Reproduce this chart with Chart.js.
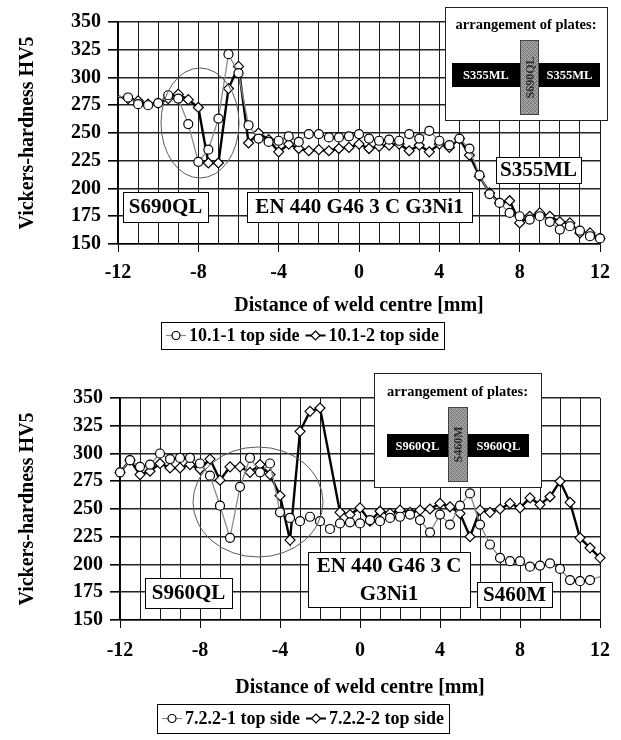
<!DOCTYPE html>
<html><head><meta charset="utf-8">
<script src="https://cdn.jsdelivr.net/npm/chart.js@4.4.1/dist/chart.umd.min.js"></script>
<style>
html,body{margin:0;padding:0;background:#fff;}
#wrap{position:relative;width:621px;height:740px;overflow:hidden;}
canvas{position:absolute;left:0;}
#c1{top:0}
#c2{top:370px}
</style></head><body>
<div id="wrap"><canvas id="c1" width="621" height="370"></canvas><canvas id="c2" width="621" height="370"></canvas></div>
<script>
// ---------- data ----------
const distances = [-12,-11.5,-11,-10.5,-10,-9.5,-9,-8.5,-8,-7.5,-7,-6.5,-6,-5.5,-5,-4.5,-4,-3.5,-3,-2.5,-2,-1.5,-1,-0.5,
  0,0.5,1,1.5,2,2.5,3,3.5,4,4.5,5,5.5,6,6.5,7,7.5,8,8.5,9,9.5,10,10.5,11,11.5,12];

const xTickLabels = [-12,-8,-4,0,4,8,12];
const yTickValues = [150,175,200,225,250,275,300,325,350];

const topNames = ['10.1-1 top side','10.1-2 top side'];
const top_10_1_1 = [283,282,276,275,277,284,281,258,224,235,263,321,304,257,245,242,243,247,242,249,249,246,246,247,
  249,245,243,244,243,249,245,252,243,239,245,236,212,195,187,178,175,172,175,170,163,166,162,157,155];
const top_10_1_2 = [283,281,279,276,277,281,285,280,273,223,223,290,310,241,250,244,233,240,236,234,235,234,236,237,
  240,236,238,239,240,234,239,233,240,237,245,230,211,196,187,189,169,175,178,175,170,169,160,160,155];

const bottomNames = ['7.2.2-1 top side','7.2.2-2 top side'];
const bot_7_2_2_1 = [283,294,288,290,300,295,296,296,291,280,253,224,270,296,283,291,247,242,239,243,239,232,237,238,
  237,240,239,242,243,245,240,229,245,236,253,264,236,218,206,203,203,198,199,201,196,186,185,186,189];
const bot_7_2_2_2 = [283,294,281,284,291,287,287,290,286,295,276,288,288,283,290,281,262,222,320,338,341,null,247,245,
  251,239,248,246,249,247,249,250,255,252,246,225,249,247,250,255,251,260,254,261,275,256,224,215,206];

// ---------- drawing helpers ----------
const SERIF = '"Liberation Serif","Times New Roman",serif';

function textBox(ctx, x, y, w, h, lines, size) {
  ctx.save();
  ctx.fillStyle = '#fff'; ctx.fillRect(x, y, w, h);
  ctx.strokeStyle = '#000'; ctx.lineWidth = 1; ctx.strokeRect(x + 0.5, y + 0.5, w, h);
  ctx.fillStyle = '#000'; ctx.font = 'bold ' + size + 'px ' + SERIF;
  ctx.textAlign = 'center'; ctx.textBaseline = 'middle';
  const lh = h / lines.length;
  lines.forEach((t, i) => ctx.fillText(t, x + w / 2, y + lh * (i + 0.5) + 1));
  ctx.restore();
}

let patCache = null;
function grayPattern(ctx) {
  if (patCache) return patCache;
  const c = document.createElement('canvas'); c.width = 4; c.height = 4;
  const g = c.getContext('2d');
  const shades = ['#6a6a6a','#a8a8a8','#8a8a8a','#b8b8b8','#9c9c9c','#747474','#b0b0b0','#808080',
                  '#8e8e8e','#b4b4b4','#707070','#a0a0a0','#acacac','#848484','#9a9a9a','#6e6e6e'];
  for (let i = 0; i < 16; i++) { g.fillStyle = shades[i]; g.fillRect(i % 4, Math.floor(i / 4), 1, 1); }
  patCache = ctx.createPattern(c, 'repeat');
  return patCache;
}

function inset(ctx, o) {
  ctx.save();
  ctx.fillStyle = '#fff'; ctx.fillRect(o.x, o.y, o.w, o.h);
  ctx.strokeStyle = '#222'; ctx.lineWidth = 1; ctx.strokeRect(o.x + 0.5, o.y + 0.5, o.w, o.h);
  ctx.fillStyle = '#000'; ctx.font = 'bold 14.5px ' + SERIF;
  ctx.textAlign = 'center'; ctx.textBaseline = 'middle';
  ctx.fillText('arrangement of plates:', o.x + o.w / 2, o.titleY);
  // horizontal black bar
  const b = o.bar, v = o.vbar;
  ctx.fillStyle = '#000'; ctx.fillRect(b.x, b.y, b.w, b.h);
  // vertical gray bar
  ctx.fillStyle = grayPattern(ctx); ctx.fillRect(v.x, v.y, v.w, v.h);
  ctx.strokeStyle = '#444'; ctx.strokeRect(v.x + 0.5, v.y + 0.5, v.w - 1, v.h - 1);
  ctx.fillStyle = '#fff'; ctx.font = 'bold 12.5px ' + SERIF;
  ctx.fillText(o.left, (b.x + v.x) / 2, b.y + b.h / 2 + 1);
  ctx.fillText(o.right, (v.x + v.w + b.x + b.w) / 2, b.y + b.h / 2 + 1);
  ctx.save();
  ctx.translate(v.x + v.w / 2, v.y + v.h / 2);
  ctx.rotate(-Math.PI / 2);
  ctx.fillStyle = '#2a2a2a'; ctx.font = 'bold 12px ' + SERIF;
  ctx.fillText(o.vert, 0, 1);
  ctx.restore();
  ctx.restore();
}

function drawMarker(ctx, style, x, y, r) {
  ctx.beginPath();
  if (style === 'circle') ctx.arc(x, y, r, 0, Math.PI * 2);
  else { ctx.moveTo(x, y - r); ctx.lineTo(x + r, y); ctx.lineTo(x, y + r); ctx.lineTo(x - r, y); ctx.closePath(); }
  ctx.fillStyle = '#fff'; ctx.fill();
  ctx.strokeStyle = '#000'; ctx.lineWidth = 1.2; ctx.stroke();
}

function legendBox(ctx, cx, top, h, names) {
  ctx.save();
  ctx.font = 'bold 18px ' + SERIF;
  const symW = 20, gap = 3, itemGap = 6, padX = 5;
  const items = [
    {name: names[0], style: 'circle', color: '#8a8a8a', lw: 1.2},
    {name: names[1], style: 'rectRot', color: '#000', lw: 2}
  ];
  let total = padX * 2;
  items.forEach((it, i) => { it.tw = ctx.measureText(it.name).width; total += symW + gap + it.tw + (i ? itemGap : 0); });
  let x = Math.round(cx - total / 2);
  ctx.fillStyle = '#fff'; ctx.fillRect(x, top, total, h);
  ctx.strokeStyle = '#000'; ctx.lineWidth = 1; ctx.strokeRect(x + 0.5, top + 0.5, total, h);
  const my = top + h / 2;
  x += padX;
  items.forEach((it, i) => {
    if (i) x += itemGap;
    ctx.beginPath(); ctx.moveTo(x, my); ctx.lineTo(x + symW, my);
    ctx.strokeStyle = it.color; ctx.lineWidth = it.lw; ctx.stroke();
    drawMarker(ctx, it.style, x + symW / 2, my, it.style === 'circle' ? 4 : 4.5);
    x += symW + gap;
    ctx.fillStyle = '#000'; ctx.textAlign = 'left'; ctx.textBaseline = 'middle';
    ctx.fillText(it.name, x, my + 1);
    x += it.tw;
  });
  ctx.restore();
}

const annotPlugin = {
  id: 'annot',
  afterDatasetsDraw(chart) {
    const a = chart.options.plugins.annot;
    const ctx = chart.ctx;
    ctx.save();
    ctx.beginPath();
    ctx.ellipse(a.ellipse[0], a.ellipse[1], a.ellipse[2], a.ellipse[3], 0, 0, Math.PI * 2);
    ctx.strokeStyle = '#5a5a5a'; ctx.lineWidth = 1; ctx.stroke();
    ctx.restore();
    a.boxes.forEach(b => textBox(ctx, b[0], b[1], b[2], b[3], b[4], b[5]));
    inset(ctx, a.inset);
    legendBox(ctx, a.legend.cx, a.legend.top, a.legend.h, a.legend.names);
  }
};

function makeChart(canvas, cfg) {
  const pts = arr => distances.map((x, i) => ({x: x, y: arr[i]}));
  const tickFont = {family: SERIF, size: 20, weight: 'bold'};
  const titleFont = {family: SERIF, size: 20, weight: 'bold'};
  return new Chart(canvas, {
    type: 'line',
    data: {datasets: [
      {label: cfg.names[0], data: pts(cfg.s1), borderColor: '#8a8a8a', borderWidth: 1.3,
       pointStyle: 'circle', pointRadius: c => (cfg.hide1.includes(c.dataIndex) ? 0 : 4.5),
       pointBackgroundColor: '#fff', pointBorderColor: '#000', pointBorderWidth: 1.2, tension: 0, spanGaps: true, clip: 6},
      {label: cfg.names[1], data: pts(cfg.s2), borderColor: '#000', borderWidth: 2.4,
       pointStyle: 'rectRot', pointRadius: c => (cfg.hide2.includes(c.dataIndex) ? 0 : 5),
       pointBackgroundColor: '#fff', pointBorderColor: '#000', pointBorderWidth: 1.2, tension: 0, spanGaps: true, clip: 6}
    ]},
    options: {
      responsive: false, animation: false, devicePixelRatio: 1,
      layout: {padding: {left: 0, right: cfg.right, top: cfg.top, bottom: 0}},
      plugins: {legend: {display: false}, tooltip: {enabled: false}, annot: cfg.annot},
      scales: {
        x: {type: 'linear', min: -12, max: 12,
            afterBuildTicks: s => { s.ticks = distances.filter(d => Number.isInteger(d)).map(v => ({value: v})); },
            ticks: {autoSkip: false, maxRotation: 0, color: '#000', font: tickFont, padding: cfg.xpad,
                    callback: v => (xTickLabels.includes(v) ? String(v) : '')},
            grid: {color: '#1a1a1a', lineWidth: 1, tickLength: 8,
                   tickColor: c => (c.tick && xTickLabels.includes(c.tick.value) ? '#000' : 'rgba(0,0,0,0)')},
            border: {color: '#000', width: 1.5},
            title: {display: true, text: 'Distance of weld centre [mm]', color: '#000', font: titleFont,
                    padding: {top: 0, bottom: cfg.titlePad}},
            afterFit: s => { s.height = cfg.xh; }},
        y: {min: 150, max: 350,
            afterBuildTicks: s => { s.ticks = yTickValues.map(v => ({value: v})); },
            ticks: {color: '#000', font: tickFont, padding: 7},
            grid: {color: '#222', lineWidth: 1.6, tickLength: 10, tickColor: '#000'},
            border: {color: '#000', width: 1.5},
            title: {display: true, text: 'Vickers-hardness HV5', color: '#000', font: titleFont,
                    padding: {top: 16, bottom: 0}},
            afterFit: s => { s.width = cfg.left; }}
      }
    },
    plugins: [annotPlugin]
  });
}

makeChart(document.getElementById('c1'), {
  names: topNames, s1: top_10_1_1, s2: top_10_1_2, hide1: [0], hide2: [0],
  left: 118, right: 21, top: 22, xh: 126, xpad: 9, titlePad: 52,
  annot: {
    ellipse: [200, 123, 39, 55],
    boxes: [[123, 192, 85, 30, ['S690QL'], 21], [247, 192, 225, 30, ['EN 440 G46 3 C G3Ni1'], 21], [496, 157, 85, 26, ['S355ML'], 21]],
    inset: {x: 445, y: 7, w: 162, h: 113, titleY: 25, bar: {x: 452, y: 63, w: 148, h: 24}, vbar: {x: 520, y: 40, w: 19, h: 75},
            left: 'S355ML', right: 'S355ML', vert: 'S690QL'},
    legend: {cx: 303, top: 322, h: 27, names: topNames}
  }
});

makeChart(document.getElementById('c2'), {
  names: bottomNames, s1: bot_7_2_2_1, s2: bot_7_2_2_2, hide1: [48], hide2: [],
  left: 120, right: 18, top: 28, xh: 120, xpad: 11, titlePad: 40,
  annot: {
    ellipse: [258, 132, 65, 55],
    boxes: [[145, 208, 87, 30, ['S960QL'], 21], [308, 182, 162, 55, ['EN 440 G46 3 C', 'G3Ni1'], 21], [477, 212, 75, 25, ['S460M'], 21]],
    inset: {x: 374, y: 3, w: 167, h: 114, titleY: 22, bar: {x: 387, y: 64, w: 142, h: 23}, vbar: {x: 448, y: 37, w: 20, h: 75},
            left: 'S960QL', right: 'S960QL', vert: 'S460M'},
    legend: {cx: 303, top: 334, h: 29, names: bottomNames}
  }
});
</script>
</body></html>
